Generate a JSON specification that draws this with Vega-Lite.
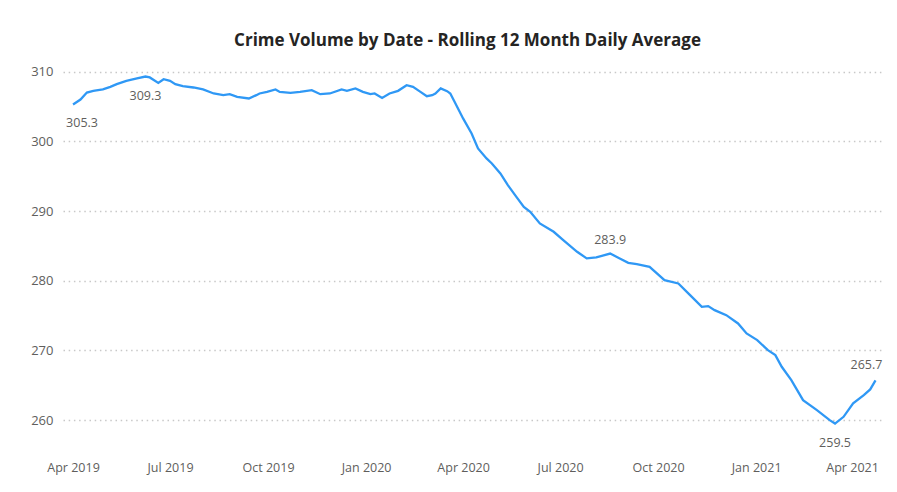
{
  "$schema": "https://vega.github.io/schema/vega-lite/v6.json",
  "width": 819,
  "height": 377,
  "autosize": {"type": "none"},
  "padding": {"left": 63, "top": 64, "right": 15, "bottom": 51},
  "background": "#ffffff",
  "title": {
    "text": "Crime Volume by Date - Rolling 12 Month Daily Average",
    "font": "Open Sans",
    "fontSize": 17,
    "fontWeight": "bold",
    "color": "#252423",
    "anchor": "middle",
    "dx": -5,
    "offset": 14
  },
  "config": {
    "view": {"stroke": null},
    "font": "Open Sans"
  },
  "data": {
    "values": [
      {"date": "2019-04-01", "avg": 305.3},
      {"date": "2019-04-08", "avg": 306.0},
      {"date": "2019-04-14", "avg": 307.0},
      {"date": "2019-04-20", "avg": 307.25},
      {"date": "2019-04-29", "avg": 307.45},
      {"date": "2019-05-06", "avg": 307.82},
      {"date": "2019-05-12", "avg": 308.21},
      {"date": "2019-05-21", "avg": 308.68},
      {"date": "2019-05-31", "avg": 309.02},
      {"date": "2019-06-08", "avg": 309.3},
      {"date": "2019-06-12", "avg": 309.17},
      {"date": "2019-06-20", "avg": 308.39},
      {"date": "2019-06-25", "avg": 308.92},
      {"date": "2019-07-01", "avg": 308.68},
      {"date": "2019-07-06", "avg": 308.21},
      {"date": "2019-07-13", "avg": 307.92},
      {"date": "2019-07-23", "avg": 307.73},
      {"date": "2019-08-01", "avg": 307.45},
      {"date": "2019-08-11", "avg": 306.87},
      {"date": "2019-08-20", "avg": 306.63},
      {"date": "2019-08-26", "avg": 306.77},
      {"date": "2019-09-02", "avg": 306.38},
      {"date": "2019-09-13", "avg": 306.15},
      {"date": "2019-09-20", "avg": 306.63},
      {"date": "2019-09-23", "avg": 306.87},
      {"date": "2019-09-30", "avg": 307.1},
      {"date": "2019-10-08", "avg": 307.45},
      {"date": "2019-10-12", "avg": 307.1},
      {"date": "2019-10-22", "avg": 306.96},
      {"date": "2019-10-31", "avg": 307.1},
      {"date": "2019-11-11", "avg": 307.35},
      {"date": "2019-11-19", "avg": 306.77},
      {"date": "2019-11-28", "avg": 306.87},
      {"date": "2019-12-09", "avg": 307.45},
      {"date": "2019-12-14", "avg": 307.25},
      {"date": "2019-12-22", "avg": 307.59},
      {"date": "2019-12-29", "avg": 307.1},
      {"date": "2020-01-05", "avg": 306.77},
      {"date": "2020-01-09", "avg": 306.87},
      {"date": "2020-01-16", "avg": 306.24},
      {"date": "2020-01-23", "avg": 306.87},
      {"date": "2020-01-31", "avg": 307.25},
      {"date": "2020-02-08", "avg": 308.06},
      {"date": "2020-02-14", "avg": 307.82},
      {"date": "2020-02-21", "avg": 307.1},
      {"date": "2020-02-27", "avg": 306.48},
      {"date": "2020-03-03", "avg": 306.63},
      {"date": "2020-03-06", "avg": 306.87},
      {"date": "2020-03-11", "avg": 307.59},
      {"date": "2020-03-17", "avg": 307.2},
      {"date": "2020-03-20", "avg": 306.87},
      {"date": "2020-03-24", "avg": 305.67},
      {"date": "2020-04-01", "avg": 303.29},
      {"date": "2020-04-09", "avg": 301.13},
      {"date": "2020-04-15", "avg": 298.98},
      {"date": "2020-04-23", "avg": 297.55},
      {"date": "2020-04-28", "avg": 296.83},
      {"date": "2020-05-06", "avg": 295.39},
      {"date": "2020-05-13", "avg": 293.72},
      {"date": "2020-05-21", "avg": 292.04},
      {"date": "2020-05-28", "avg": 290.6},
      {"date": "2020-06-03", "avg": 289.89},
      {"date": "2020-06-12", "avg": 288.22},
      {"date": "2020-06-25", "avg": 287.02},
      {"date": "2020-07-04", "avg": 285.82},
      {"date": "2020-07-17", "avg": 284.15},
      {"date": "2020-07-26", "avg": 283.2},
      {"date": "2020-08-04", "avg": 283.34},
      {"date": "2020-08-17", "avg": 283.9},
      {"date": "2020-08-26", "avg": 283.2},
      {"date": "2020-09-03", "avg": 282.57},
      {"date": "2020-09-11", "avg": 282.38},
      {"date": "2020-09-23", "avg": 282.0},
      {"date": "2020-10-07", "avg": 280.09},
      {"date": "2020-10-20", "avg": 279.61},
      {"date": "2020-10-31", "avg": 277.93},
      {"date": "2020-11-11", "avg": 276.26},
      {"date": "2020-11-17", "avg": 276.36},
      {"date": "2020-11-23", "avg": 275.78},
      {"date": "2020-12-04", "avg": 275.06},
      {"date": "2020-12-15", "avg": 273.87},
      {"date": "2020-12-23", "avg": 272.44},
      {"date": "2021-01-02", "avg": 271.48},
      {"date": "2021-01-12", "avg": 270.04},
      {"date": "2021-01-19", "avg": 269.33},
      {"date": "2021-01-25", "avg": 267.65},
      {"date": "2021-02-03", "avg": 265.74},
      {"date": "2021-02-14", "avg": 262.87},
      {"date": "2021-02-27", "avg": 261.44},
      {"date": "2021-03-11", "avg": 260.0},
      {"date": "2021-03-16", "avg": 259.5},
      {"date": "2021-03-24", "avg": 260.47},
      {"date": "2021-04-02", "avg": 262.4},
      {"date": "2021-04-12", "avg": 263.59},
      {"date": "2021-04-18", "avg": 264.4},
      {"date": "2021-04-23", "avg": 265.7}
    ]
  },
  "encoding": {
    "x": {
      "field": "date",
      "type": "temporal",
      "scale": {
        "type": "utc",
        "domain": [
          {"year": 2019, "month": 3, "date": 22, "hours": 14, "utc": true},
          {"year": 2021, "month": 4, "date": 29, "hours": 2, "utc": true}
        ]
      },
      "axis": {
        "title": null,
        "grid": false,
        "domain": false,
        "ticks": false,
        "format": "%b %Y",
        "labelFont": "Open Sans",
        "labelFontSize": 12.5,
        "labelColor": "#605E5C",
        "labelPadding": 20,
        "labelFlush": false,
        "values": [
          {"year": 2019, "month": 4, "date": 1, "utc": true},
          {"year": 2019, "month": 7, "date": 1, "utc": true},
          {"year": 2019, "month": 10, "date": 1, "utc": true},
          {"year": 2020, "month": 1, "date": 1, "utc": true},
          {"year": 2020, "month": 4, "date": 1, "utc": true},
          {"year": 2020, "month": 7, "date": 1, "utc": true},
          {"year": 2020, "month": 10, "date": 1, "utc": true},
          {"year": 2021, "month": 1, "date": 1, "utc": true},
          {"year": 2021, "month": 4, "date": 1, "utc": true}
        ]
      }
    },
    "y": {
      "field": "avg",
      "type": "quantitative",
      "scale": {"domain": [257, 311.1], "nice": false, "zero": false},
      "axis": {
        "title": null,
        "values": [260, 270, 280, 290, 300, 310],
        "domain": false,
        "ticks": false,
        "labelFont": "Open Sans",
        "labelFontSize": 13,
        "labelColor": "#605E5C",
        "labelPadding": 10,
        "gridColor": "#c8c8c8",
        "gridDash": [1.5, 3.7],
        "gridWidth": 1.5
      }
    }
  },
  "layer": [
    {
      "mark": {"type": "line", "color": "#2f98f5", "strokeWidth": 2.3, "interpolate": "linear"}
    },
    {
      "transform": [{"filter": {"field": "date", "oneOf": [{"year": 2019, "month": 4, "date": 1, "utc": true}]}}],
      "mark": {"type": "text", "dy": 19, "dx": 9, "fontSize": 12.5, "color": "#605E5C", "font": "Open Sans"},
      "encoding": {"text": {"field": "avg", "type": "quantitative", "format": ".1f"}}
    },
    {
      "transform": [{"filter": {"field": "date", "oneOf": [{"year": 2019, "month": 6, "date": 8, "utc": true}, {"year": 2021, "month": 3, "date": 16, "utc": true}]}}],
      "mark": {"type": "text", "dy": 19, "fontSize": 12.5, "color": "#605E5C", "font": "Open Sans"},
      "encoding": {"text": {"field": "avg", "type": "quantitative", "format": ".1f"}}
    },
    {
      "transform": [{"filter": {"field": "date", "oneOf": [{"year": 2020, "month": 8, "date": 17, "utc": true}]}}],
      "mark": {"type": "text", "dy": -14, "fontSize": 12.5, "color": "#605E5C", "font": "Open Sans"},
      "encoding": {"text": {"field": "avg", "type": "quantitative", "format": ".1f"}}
    },
    {
      "transform": [{"filter": {"field": "date", "oneOf": [{"year": 2021, "month": 4, "date": 23, "utc": true}]}}],
      "mark": {"type": "text", "dy": -15, "dx": -9, "fontSize": 12.5, "color": "#605E5C", "font": "Open Sans"},
      "encoding": {"text": {"field": "avg", "type": "quantitative", "format": ".1f"}}
    }
  ]
}
